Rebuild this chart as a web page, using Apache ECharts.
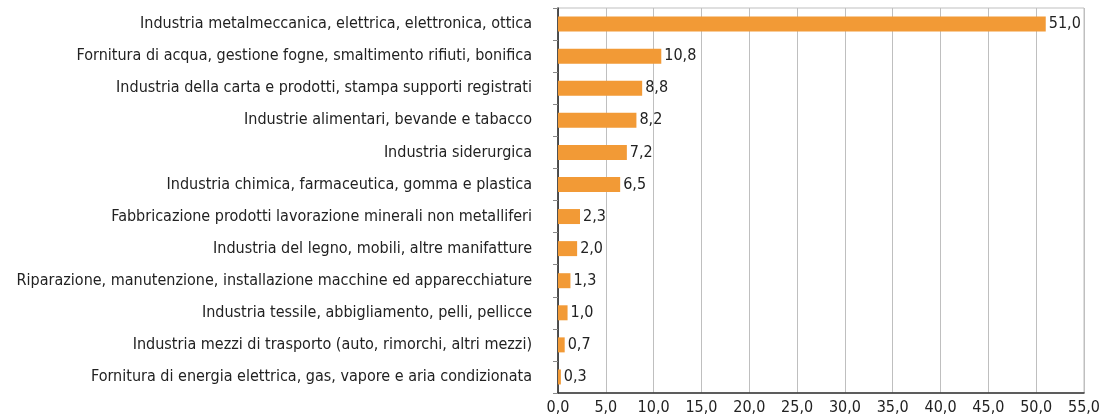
<!DOCTYPE html>
<html><head><meta charset="utf-8">
<script src="https://cdn.jsdelivr.net/npm/echarts@6/dist/echarts.min.js"></script>
<style>html,body{margin:0;padding:0;background:#fff}#c{width:1105px;height:420px}</style>
</head><body><div id="c"></div>
<script>
const categories = [
  "Industria metalmeccanica, elettrica, elettronica, ottica",
  "Fornitura di acqua, gestione fogne, smaltimento rifiuti, bonifica",
  "Industria della carta e prodotti, stampa supporti registrati",
  "Industrie alimentari, bevande e tabacco",
  "Industria siderurgica",
  "Industria chimica, farmaceutica, gomma e plastica",
  "Fabbricazione prodotti lavorazione minerali non metalliferi",
  "Industria del legno, mobili, altre manifatture",
  "Riparazione, manutenzione, installazione macchine ed apparecchiature",
  "Industria tessile, abbigliamento, pelli, pellicce",
  "Industria mezzi di trasporto (auto, rimorchi, altri mezzi)",
  "Fornitura di energia elettrica, gas, vapore e aria condizionata"
];
const values = [51.0, 10.8, 8.8, 8.2, 7.2, 6.5, 2.3, 2.0, 1.3, 1.0, 0.7, 0.3];
const fmt = v => v.toFixed(1).replace('.', ',');
const FONT = '"DejaVu Sans Condensed", "Liberation Sans Narrow", sans-serif';
const FS = 16;
const chart = echarts.init(document.getElementById('c'));
chart.setOption({
  animation: false,
  textStyle: { fontFamily: FONT },
  grid: { left: 558, right: 21, top: 8, bottom: 27, show: true, borderColor: '#bfbfbf', borderWidth: 1, containLabel: false, outerBoundsMode: 'none' },
  xAxis: {
    type: 'value', min: 0, max: 55, interval: 5,
    axisLine: { show: true, lineStyle: { color: '#333', width: 1.5 } },
    axisTick: { show: false },
    splitLine: { show: true, lineStyle: { color: '#bfbfbf', width: 1 } },
    axisLabel: { formatter: fmt, color: '#222', fontSize: FS, fontFamily: FONT, margin: 7 }
  },
  yAxis: {
    type: 'category', data: categories, inverse: true,
    axisLine: { show: true, onZero: false, lineStyle: { color: '#222', width: 1.5 } },
    axisTick: { show: true, length: 5, lineStyle: { color: '#888' } },
    axisLabel: { color: '#222', fontSize: FS, fontFamily: FONT, margin: 26 }
  },
  series: [{
    type: 'bar', data: values, barWidth: 15,
    itemStyle: { color: '#F29A36' },
    label: { show: true, position: 'right', distance: 3, formatter: p => fmt(p.value), color: '#222', fontSize: FS, fontFamily: FONT }
  }]
});
</script></body></html>
